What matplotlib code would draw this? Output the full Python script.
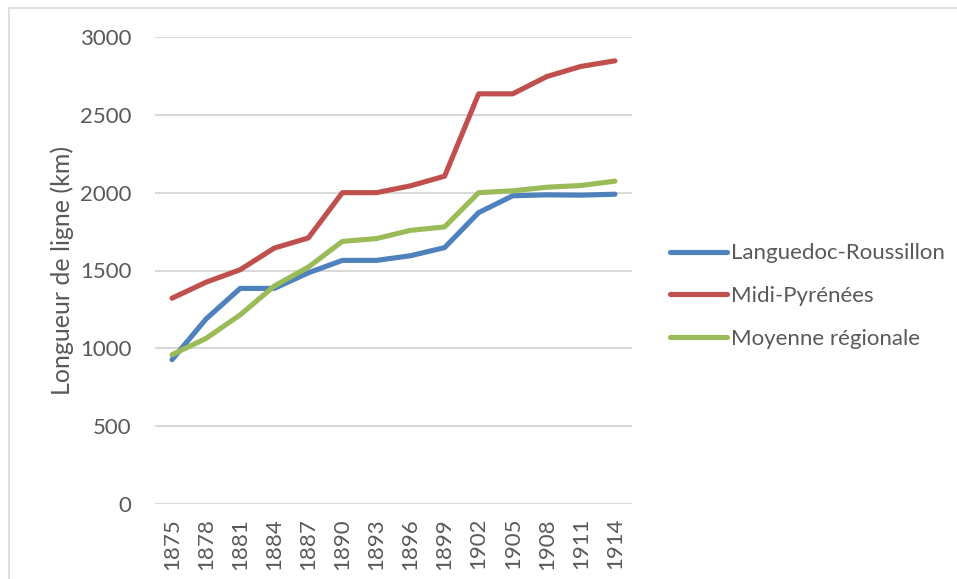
from matplotlib import pyplot as plt
from matplotlib import lines as ml

plt.rcParams['font.family'] = ['Lato', 'DejaVu Sans']

years = ['1875', '1878', '1881', '1884', '1887', '1890', '1893',
         '1896', '1899', '1902', '1905', '1908', '1911', '1914']

languedoc = [927, 1189, 1385, 1385, 1485, 1565, 1565,
             1595, 1647, 1872, 1980, 1986, 1984, 1990]
midi = [1322, 1425, 1505, 1644, 1709, 2000, 2000,
        2044, 2106, 2635, 2635, 2746, 2811, 2847]
moyenne = [959, 1064, 1215, 1400, 1522, 1687, 1705,
           1758, 1780, 2000, 2012, 2035, 2046, 2074]

SERIES = [
    ('Languedoc-Roussillon', languedoc, '#4F81BD'),
    ('Midi-Pyrénées', midi, '#C0504D'),
    ('Moyenne régionale', moyenne, '#9BBB59'),
]

TEXT = '#595959'
GRID = '#D9D9D9'
FS = 16

fig = plt.figure(figsize=(9.57, 5.79), dpi=100)
ax = fig.add_axes([155 / 957, 1 - 504 / 579, (632 - 155) / 957, (504 - 37) / 579])

x = range(len(years))
handles = []
for name, vals, col in SERIES:
    ln, = ax.plot(x, vals, color=col, lw=3.7, solid_capstyle='round',
                  solid_joinstyle='round', label=name)
    handles.append(ln)

ax.set_xlim(-0.5, len(years) - 0.5)
ax.set_ylim(0, 3000)
ax.set_yticks(range(0, 3001, 500))
ax.set_xticks(list(x))
ax.set_xticklabels(years, rotation=90)
ax.yaxis.grid(True, color=GRID, lw=1.5)
ax.set_axisbelow(True)
for s in ax.spines.values():
    s.set_visible(False)
ax.tick_params(length=0, colors=TEXT, labelsize=FS)
ax.tick_params(axis='y', pad=17)
ax.tick_params(axis='x', pad=10)
ax.set_ylabel('Longueur de ligne (km)', fontsize=18, color=TEXT, labelpad=4)

fig.legend(handles, [h.get_label() for h in handles], loc='center left',
           bbox_to_anchor=(670 / 957, 1 - 296 / 579), frameon=False,
           borderpad=0, borderaxespad=0,
           fontsize=FS, labelcolor=TEXT, handlelength=2.55, handletextpad=0.18,
           labelspacing=1.02)

# chart border: only top and left edges show in the export
fig.lines.append(ml.Line2D([9 / 957, 1], [1 - 8 / 579] * 2, transform=fig.transFigure,
                           color=GRID, lw=1.2))
fig.lines.append(ml.Line2D([9 / 957] * 2, [0, 1 - 8 / 579], transform=fig.transFigure,
                           color=GRID, lw=1.2))

plt.savefig('out.png', dpi=100)
